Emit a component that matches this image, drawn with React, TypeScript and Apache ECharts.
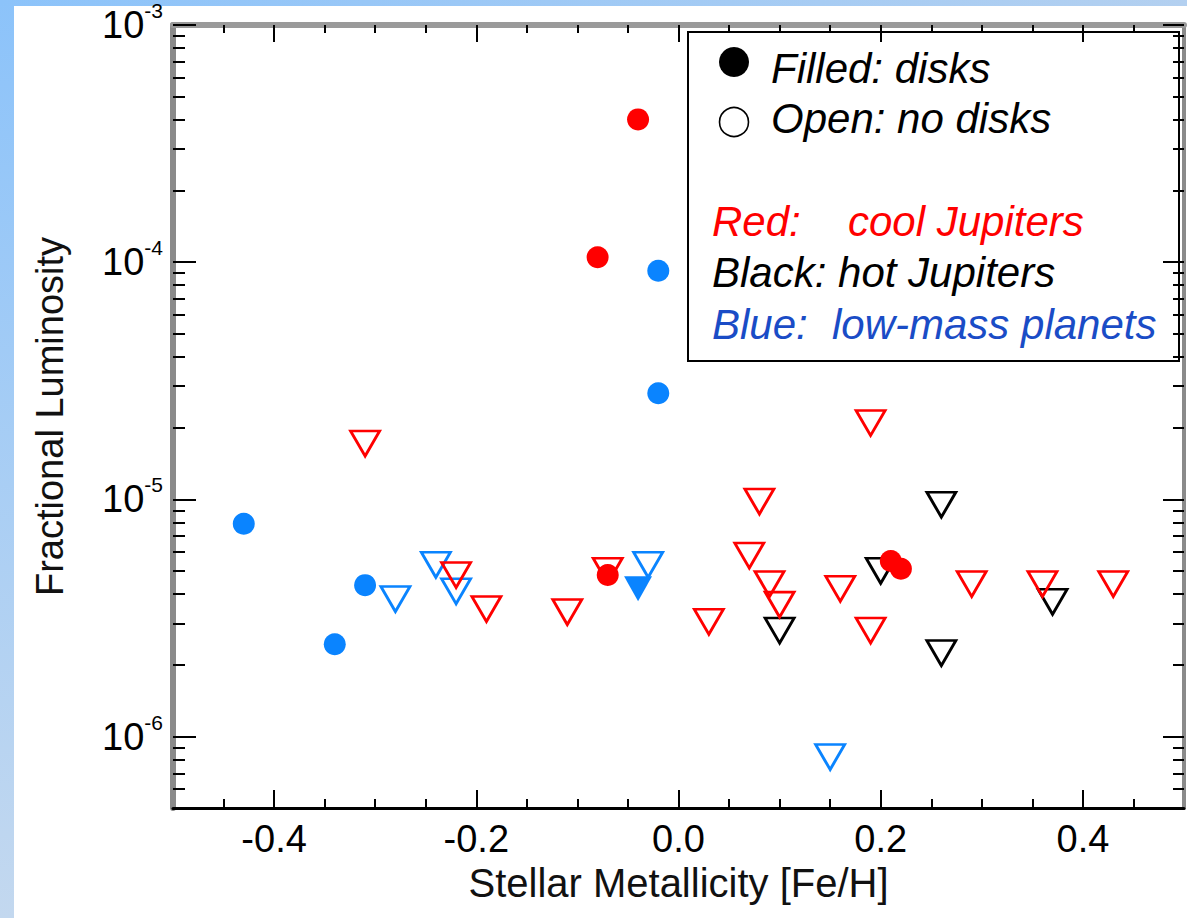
import React, { useEffect, useRef } from "react";
import * as echarts from "echarts";

// ---------- axis ticks ----------
const X_MIN = -0.5;
const X_MAX = 0.5;
const X_MAJOR = [-0.4, -0.2, 0.0, 0.2, 0.4];
const X_MINOR = [-0.45, -0.35, -0.3, -0.25, -0.15, -0.1, -0.05, 0.05, 0.1, 0.15, 0.25, 0.3, 0.35, 0.45];
const Y_MIN = 5e-7;
const Y_MAX = 1e-3;
const Y_MAJOR = [1e-6, 1e-5, 1e-4, 1e-3];
const Y_MINOR = [
  6e-7, 7e-7, 8e-7, 9e-7,
  2e-6, 3e-6, 4e-6, 5e-6, 6e-6, 7e-6, 8e-6, 9e-6,
  2e-5, 3e-5, 4e-5, 5e-5, 6e-5, 7e-5, 8e-5, 9e-5,
  2e-4, 3e-4, 4e-4, 5e-4, 6e-4, 7e-4, 8e-4, 9e-4,
];

// ---------- data: [Fe/H], fractional luminosity ----------
// Red: cool Jupiters
const coolDiskX = [-0.04, -0.08, -0.07, 0.21, 0.22];
const coolDiskY = [4.0e-4, 1.05e-4, 4.8e-6, 5.5e-6, 5.1e-6];
const coolNoDiskX = [-0.31, -0.22, -0.19, -0.11, -0.07, 0.03, 0.07, 0.08, 0.09, 0.10, 0.16, 0.19, 0.19, 0.29, 0.36, 0.43];
const coolNoDiskY = [1.72e-5, 4.8e-6, 3.45e-6, 3.35e-6, 5.0e-6, 3.05e-6, 5.8e-6, 9.8e-6, 4.4e-6, 3.6e-6, 4.2e-6, 2.1e-5, 2.8e-6, 4.4e-6, 4.4e-6, 4.4e-6];
// Black: hot Jupiters
const hotNoDiskX = [0.26, 0.20, 0.10, 0.26, 0.37];
const hotNoDiskY = [9.5e-6, 5.0e-6, 2.8e-6, 2.25e-6, 3.7e-6];
// Blue: low-mass planets
const lowDiskX = [-0.02, -0.02, -0.43, -0.31, -0.34];
const lowDiskY = [9.2e-5, 2.8e-5, 7.9e-6, 4.35e-6, 2.45e-6];
const lowDiskLimitX = [-0.04];
const lowDiskLimitY = [4.2e-6];
const lowNoDiskX = [-0.28, -0.24, -0.22, -0.03, 0.15];
const lowNoDiskY = [3.8e-6, 5.3e-6, 4.1e-6, 5.3e-6, 8.2e-7];

const RED = "#ff0000";
const BLUE = "#0a84ff";
const BLACK = "#000000";
const LEGEND_BLUE = "#1a4cc6";
const FONT = '"Liberation Sans", Arial, Helvetica, sans-serif';

const pairs = (xs: number[], ys: number[]) => xs.map((x, i) => [x, ys[i]]);

const openTri = (name: string, xs: number[], ys: number[], color: string) => ({
  name,
  type: "scatter",
  xAxisIndex: 0,
  yAxisIndex: 0,
  symbol: "triangle",
  symbolRotate: 180,
  symbolSize: [29, 25],
  itemStyle: { color: "rgba(0,0,0,0)", borderColor: color, borderWidth: 2.8, opacity: 1 },
  data: pairs(xs, ys),
  silent: true,
  z: 2,
});

const filledDot = (name: string, xs: number[], ys: number[], color: string) => ({
  name,
  type: "scatter",
  xAxisIndex: 0,
  yAxisIndex: 0,
  symbol: "circle",
  symbolSize: 22,
  itemStyle: { color, opacity: 1 },
  data: pairs(xs, ys),
  silent: true,
  z: 3,
});

export default function App() {
  const ref = useRef<HTMLDivElement>(null);

  useEffect(() => {
    if (!ref.current) return;
    const chart = echarts.init(ref.current, null, { renderer: "svg" });

    const tickStyle = { color: "#000", width: 2 };
    const baseX = { type: "value", min: X_MIN, max: X_MAX, splitLine: { show: false }, offset: 0 };
    const baseY = { type: "log", logBase: 10, min: Y_MIN, max: Y_MAX, splitLine: { show: false }, offset: 0 };

    const option: any = {
      animation: false,
      backgroundColor: "#ffffff",
      grid: { left: 173, right: 3, top: 25, bottom: 110, containLabel: false, outerBoundsMode: "none" },
      xAxis: [
        {
          ...baseX,
          position: "bottom",
          name: "Stellar Metallicity [Fe/H]",
          nameLocation: "middle",
          nameGap: 52,
          nameTextStyle: { fontFamily: FONT, fontSize: 40, color: "#111" },
          axisLine: { show: true, onZero: false, lineStyle: { color: "#000", width: 3 } },
          axisTick: { show: true, inside: true, length: 18, customValues: X_MAJOR, lineStyle: tickStyle },
          axisLabel: {
            show: true,
            customValues: X_MAJOR,
            margin: 12,
            fontFamily: FONT,
            fontSize: 38,
            color: "#000",
            formatter: (v: number) => v.toFixed(1),
          },
        },
        {
          ...baseX,
          position: "bottom",
          axisLine: { show: false, onZero: false },
          axisTick: { show: true, inside: true, length: 9, customValues: X_MINOR, lineStyle: tickStyle },
          axisLabel: { show: false },
        },
        {
          ...baseX,
          position: "top",
          axisLine: { show: true, onZero: false, lineStyle: { color: "#9a9a9a", width: 6 } },
          axisTick: { show: true, inside: true, length: 17, customValues: X_MAJOR, lineStyle: tickStyle },
          axisLabel: { show: false },
        },
        {
          ...baseX,
          position: "top",
          axisLine: { show: false, onZero: false },
          axisTick: { show: true, inside: true, length: 8, customValues: X_MINOR, lineStyle: tickStyle },
          axisLabel: { show: false },
        },
      ],
      yAxis: [
        {
          ...baseY,
          position: "left",
          name: "Fractional Luminosity",
          nameLocation: "middle",
          nameGap: 104,
          nameRotate: 90,
          nameTextStyle: { fontFamily: FONT, fontSize: 38, color: "#111" },
          axisLine: { show: true, onZero: false, lineStyle: { color: "#8a8a8a", width: 6 } },
          axisTick: { show: true, inside: true, length: 23, customValues: Y_MAJOR, lineStyle: tickStyle },
          axisLabel: {
            show: true,
            customValues: Y_MAJOR,
            margin: 10,
            formatter: (v: number) => `{b|10}{s|${Math.round(Math.log10(v))}}`,
            rich: {
              b: { fontFamily: FONT, fontSize: 38, color: "#000", lineHeight: 50, verticalAlign: "middle" },
              s: { fontFamily: FONT, fontSize: 21, color: "#000", lineHeight: 21, verticalAlign: "top" },
            },
          },
        },
        {
          ...baseY,
          position: "left",
          axisLine: { show: false, onZero: false },
          axisTick: { show: true, inside: true, length: 12, customValues: Y_MINOR, lineStyle: tickStyle },
          axisLabel: { show: false },
        },
        {
          ...baseY,
          position: "right",
          axisLine: { show: true, onZero: false, lineStyle: { color: "#8a8a8a", width: 4 } },
          axisTick: { show: true, inside: true, length: 21, customValues: Y_MAJOR, lineStyle: tickStyle },
          axisLabel: { show: false },
        },
        {
          ...baseY,
          position: "right",
          axisLine: { show: false, onZero: false },
          axisTick: { show: true, inside: true, length: 11, customValues: Y_MINOR, lineStyle: tickStyle },
          axisLabel: { show: false },
        },
      ],
      series: [
        openTri("Hot Jupiters, no disks", hotNoDiskX, hotNoDiskY, BLACK),
        openTri("Low-mass planets, no disks", lowNoDiskX, lowNoDiskY, BLUE),
        openTri("Cool Jupiters, no disks", coolNoDiskX, coolNoDiskY, RED),
        {
          name: "Low-mass planets, disk limit",
          type: "scatter",
          xAxisIndex: 0,
          yAxisIndex: 0,
          symbol: "triangle",
          symbolRotate: 180,
          symbolSize: [28, 25],
          itemStyle: { color: BLUE, opacity: 1 },
          data: pairs(lowDiskLimitX, lowDiskLimitY),
          silent: true,
          z: 3,
        },
        filledDot("Low-mass planets, disks", lowDiskX, lowDiskY, BLUE),
        filledDot("Cool Jupiters, disks", coolDiskX, coolDiskY, RED),
      ],
      graphic: [
        {
          type: "rect",
          z: -10,
          shape: { x: 0, y: 0, width: 14, height: 918 },
          style: {
            fill: new echarts.graphic.LinearGradient(0, 0, 0, 1, [
              { offset: 0, color: "#8cc3fa" },
              { offset: 1, color: "#c3d8ef" },
            ]),
          },
          silent: true,
        },
        {
          type: "rect",
          z: -10,
          shape: { x: 0, y: 0, width: 1187, height: 6 },
          style: {
            fill: new echarts.graphic.LinearGradient(0, 0, 1, 0, [
              { offset: 0, color: "#8cc3fa" },
              { offset: 1, color: "#b3d0f0" },
            ]),
          },
          silent: true,
        },
        {
          type: "group",
          z: 100,
          silent: true,
          children: [
            {
              type: "rect",
              shape: { x: 688, y: 32, width: 491, height: 329 },
              style: { fill: "#ffffff", stroke: "#000000", lineWidth: 2 },
            },
            { type: "circle", shape: { cx: 734, cy: 62, r: 15 }, style: { fill: "#000000" } },
            { type: "circle", shape: { cx: 734, cy: 122, r: 14.5 }, style: { fill: "#ffffff", stroke: "#000000", lineWidth: 1.6 } },
            {
              type: "text",
              x: 771,
              y: 68,
              style: { text: "Filled: disks", fill: "#000", font: `italic 42px ${FONT}`, textAlign: "left", textVerticalAlign: "middle" },
            },
            {
              type: "text",
              x: 771,
              y: 118,
              style: { text: "Open: no disks", fill: "#000", font: `italic 42px ${FONT}`, textAlign: "left", textVerticalAlign: "middle" },
            },
            {
              type: "text",
              x: 712,
              y: 221,
              style: { text: "Red:", fill: RED, font: `italic 42px ${FONT}`, textAlign: "left", textVerticalAlign: "middle" },
            },
            {
              type: "text",
              x: 848,
              y: 221,
              style: { text: "cool Jupiters", fill: RED, font: `italic 42px ${FONT}`, textAlign: "left", textVerticalAlign: "middle" },
            },
            {
              type: "text",
              x: 712,
              y: 272,
              style: { text: "Black: hot Jupiters", fill: "#000", font: `italic 42px ${FONT}`, textAlign: "left", textVerticalAlign: "middle" },
            },
            {
              type: "text",
              x: 712,
              y: 324,
              style: { text: "Blue:", fill: LEGEND_BLUE, font: `italic 42px ${FONT}`, textAlign: "left", textVerticalAlign: "middle" },
            },
            {
              type: "text",
              x: 832,
              y: 324,
              style: { text: "low-mass planets", fill: LEGEND_BLUE, font: `italic 42px ${FONT}`, textAlign: "left", textVerticalAlign: "middle" },
            },
          ],
        },
      ],
    };

    chart.setOption(option);
    return () => chart.dispose();
  }, []);

  return (
    <div
      ref={ref}
      style={{ position: "absolute", left: 0, top: 0, width: 1187, height: 918, background: "#fff" }}
    />
  );
}
